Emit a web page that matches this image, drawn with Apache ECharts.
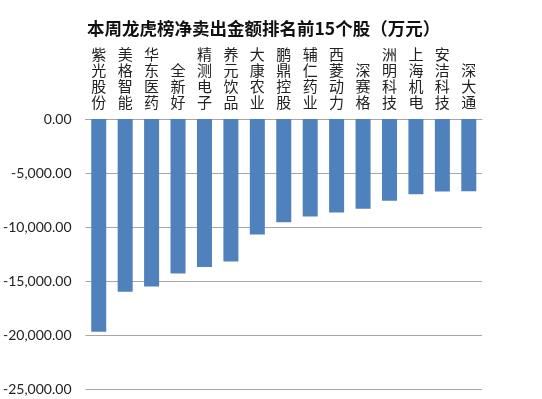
<!DOCTYPE html>
<html>
<head>
<meta charset="utf-8">
<script src="https://cdn.jsdelivr.net/npm/echarts@6/dist/echarts.min.js"></script>
<style>html,body{margin:0;padding:0;background:#fff;}#c{width:542px;height:399px;}</style>
</head>
<body>
<div id="c"></div>
<script>
const titleText = '本周龙虎榜净卖出金额排名前15个股（万元）';
const categories = ['紫光股份','美格智能','华东医药','全新好','精测电子','养元饮品','大康农业','鹏鼎控股','辅仁药业','西菱动力','深赛格','洲明科技','上海机电','安洁科技','深大通'];
const values = [-19700,-16000,-15500,-14300,-13700,-13200,-10700,-9550,-9030,-8660,-8300,-7560,-6970,-6720,-6700];

const chart = echarts.init(document.getElementById('c'));
chart.setOption({
  backgroundColor: '#ffffff',
  animation: false,
  title: {
    text: titleText,
    left: 82, top: 15,
    textStyle: {fontFamily: 'Noto Sans CJK SC', fontSize: 17.5, fontWeight: 'bold', color: '#111'}
  },
  grid: {left: 83, right: 60, top: 119, bottom: 10},
  xAxis: {
    type: 'category',
    position: 'top',
    data: categories,
    axisTick: {show: false},
    axisLine: {show: true, lineStyle: {color: '#A6A6A6', width: 1}},
    axisLabel: {
      interval: 0,
      margin: 9,
      fontFamily: 'Noto Sans CJK SC',
      fontSize: 15,
      lineHeight: 16,
      color: '#222',
      formatter: v => v.split('').join('\n')
    }
  },
  yAxis: {
    type: 'value',
    min: -25000, max: 0, interval: 5000,
    axisLine: {show: false},
    axisTick: {show: false},
    splitLine: {lineStyle: {color: '#A6A6A6', width: 1}},
    axisLabel: {
      margin: 14,
      fontFamily: 'Lato',
      fontSize: 14,
      color: '#222',
      formatter: v => v.toLocaleString('en-US', {minimumFractionDigits: 2, maximumFractionDigits: 2})
    }
  },
  series: [{
    type: 'bar',
    data: values,
    barWidth: 15,
    itemStyle: {color: '#4F81BD'}
  }]
});
</script>
</body>
</html>
